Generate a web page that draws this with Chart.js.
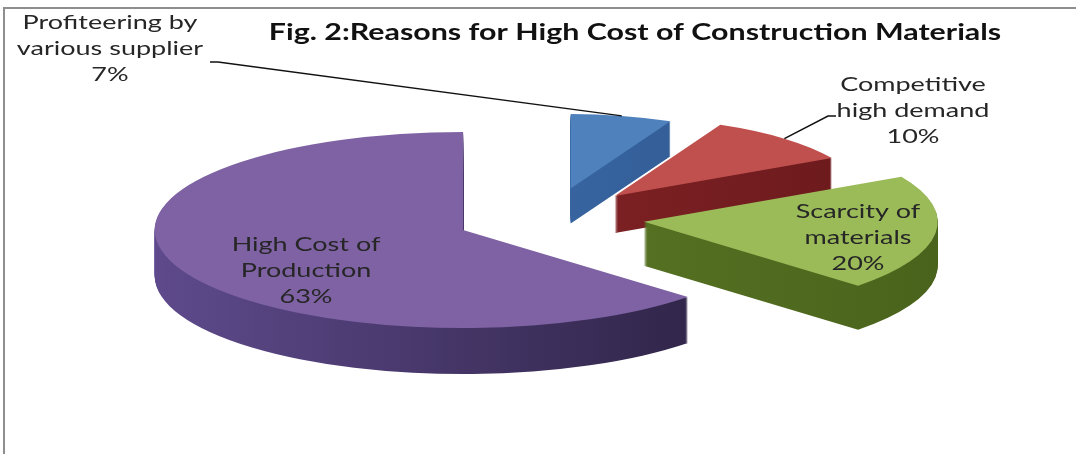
<!DOCTYPE html>
<html>
<head>
<meta charset="utf-8">
<title>Reasons for High Cost of Construction Materials</title>
<script src="https://cdn.jsdelivr.net/npm/chart.js@4.4.1/dist/chart.umd.min.js"></script>
<style>
  html, body { margin: 0; padding: 0; background: #fff; }
  #wrap { width: 1076px; height: 454px; position: relative; }
</style>
</head>
<body>
<div id="wrap"><canvas id="cost-chart"></canvas></div>
<script>
// slices, clockwise from 12 o'clock
const categories = [
    ["Profiteering by", "various supplier"],
    ["Competitive", "high demand"],
    ["Scarcity of", "materials"],
    ["High Cost of", "Production"]
];
const shares = [7, 10, 20, 63];

const topColors = ["#4f81bd", "#c0504d", "#9bbb59", "#7e62a3"];
const sideColors = [
    ["#3f6fae", "#2f5890"],
    ["#8a2629", "#6c1a1d"],
    ["#5f7d27", "#4a631c"],
    ["#5e4a8c", "#2a2040"]
];

const titleText = "Fig. 2:Reasons for High Cost of Construction Materials";
const textStretch = 1.35;

function stretchedText(ctx, text, x, y) {
    ctx.save();
    ctx.translate(x, y);
    ctx.scale(textStretch, 1);
    ctx.fillText(text, 0, 0);
    ctx.restore();
}

// geometry of one exploded, tilted slice (back slices look smaller)
function sliceGeom(arc, opts) {
    const p = arc.getProps(["x", "y", "startAngle", "endAngle", "outerRadius"], true);
    const mid = (p.startAngle + p.endAngle) / 2;
    const shift = opts.explode * p.outerRadius;
    return {
        p, mid,
        dx: Math.cos(mid) * shift,
        dy: Math.sin(mid) * shift,
        s: 1 + opts.perspective * Math.sin(mid)
    };
}

// flattened pie with a thick side, drawn back to front
const pie3d = {
    id: "pie3d",
    beforeDatasetsDraw(chart, args, opts) {
        const ctx = chart.ctx;
        const meta = chart.getDatasetMeta(0);
        meta.data.forEach((arc, i) => {
            const { p, dx, dy, s } = sliceGeom(arc, opts);
            const place = (lift) => {
                ctx.translate(p.x, p.y + lift);
                ctx.scale(1, opts.tilt);
                ctx.translate(dx, dy);
                ctx.scale(s, s);
                ctx.translate(-p.x, -p.y);
            };
            const topOpts = arc.options;
            const side = ctx.createLinearGradient(p.x - p.outerRadius, 0, p.x + p.outerRadius, 0);
            side.addColorStop(0, sideColors[i][0]);
            side.addColorStop(1, sideColors[i][1]);
            arc.options = Object.assign({}, topOpts, { backgroundColor: side });
            const depth = Math.round(opts.depth * s);
            for (let d = depth; d > 0; d--) {
                ctx.save();
                place(d);
                arc.draw(ctx);
                ctx.restore();
            }
            arc.options = topOpts;
            ctx.save();
            place(0);
            arc.draw(ctx);
            ctx.restore();
        });
        return false;
    }
};

// frame, title, data labels and leader lines
const pieText = {
    id: "pieText",
    afterDraw(chart, args, opts) {
        const ctx = chart.ctx;
        const geo = chart.options.plugins.pie3d;
        const meta = chart.getDatasetMeta(0);
        const total = shares.reduce((a, b) => a + b, 0);

        ctx.save();
        ctx.strokeStyle = "#8e8e8e";
        ctx.lineWidth = 2;
        ctx.beginPath();
        ctx.moveTo(4, chart.height);
        ctx.lineTo(4, 8);
        ctx.lineTo(chart.width, 8);
        ctx.stroke();

        ctx.fillStyle = "#111";
        ctx.textAlign = "center";
        ctx.textBaseline = "middle";
        ctx.font = "bold 22.5px Lato";
        stretchedText(ctx, titleText, opts.titleX, opts.titleY);

        ctx.font = "20px Lato";
        ctx.fillStyle = "#262626";
        meta.data.forEach((arc, i) => {
            const spot = opts.spots[i];
            const lines = categories[i].concat([Math.round(shares[i] / total * 100) + "%"]);
            lines.forEach((t, k) => stretchedText(ctx, t, spot.x, spot.y + k * opts.lineGap));

            if (spot.leader) {
                // leader runs to the outer rim of the slice
                const { p, mid, dx, dy, s } = sliceGeom(arc, geo);
                const r = p.outerRadius * s;
                const ex = p.x + dx + Math.cos(mid) * r;
                const ey = p.y + geo.tilt * (dy + Math.sin(mid) * r);
                const [sx, sy, tick] = spot.leader;
                ctx.strokeStyle = "#111";
                ctx.lineWidth = 1.5;
                ctx.beginPath();
                ctx.moveTo(sx, sy);
                ctx.lineTo(sx + tick, sy);
                ctx.lineTo(ex, ey);
                ctx.stroke();
            }
        });
        ctx.restore();
    }
};

const ctx = document.getElementById("cost-chart").getContext("2d");

new Chart(ctx, {
    type: "pie",
    data: {
        labels: categories,
        datasets: [{
            data: shares,
            backgroundColor: topColors,
            borderWidth: 0,
            radius: 287
        }]
    },
    options: {
        responsive: true,
        maintainAspectRatio: false,
        animation: false,
        layout: { padding: { left: 24, right: 0, top: 0, bottom: 18 } },
        plugins: {
            legend: { display: false },
            tooltip: { enabled: false },
            pie3d: { tilt: 0.318, depth: 43, explode: 0.33, perspective: 0.188 },
            pieText: {
                titleX: 635,
                titleY: 33,
                lineGap: 26,
                spots: [
                    { x: 110, y: 23, leader: [210, 62, 8] },
                    { x: 913, y: 85, leader: [836, 116, -8] },
                    { x: 858, y: 212 },
                    { x: 306, y: 245 }
                ]
            }
        }
    },
    plugins: [pie3d, pieText]
});
</script>
</body>
</html>
